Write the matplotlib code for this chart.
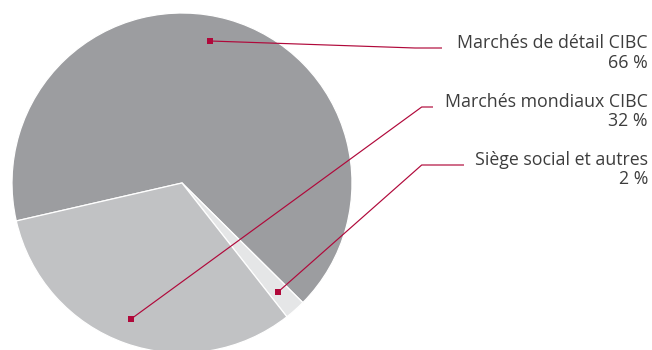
import matplotlib
matplotlib.use("Agg")
import matplotlib.pyplot as plt

# data
segments = ["Marchés de détail CIBC", "Siège social et autres", "Marchés mondiaux CIBC"]
shares = [66, 2, 32]
colors = ["#9c9da0", "#e5e6e7", "#c1c2c4"]

# label order on the right (top to bottom)
label_order = [0, 2, 1]

RED = "#b0083a"
TEXT = "#3d3d3d"

fig = plt.figure(figsize=(6.52, 3.5), dpi=100)
ax = fig.add_axes([0, 0, 1, 1])

# pixel-like coordinates, y up
cx, cy, r = 182, 167, 170
ax.pie(shares, colors=colors, startangle=192.9, counterclock=False,
       center=(cx, cy), radius=r,
       wedgeprops=dict(edgecolor="white", linewidth=0.9))

ax.set_xlim(0, 652)
ax.set_ylim(0, 350)
ax.set_aspect("equal")
ax.axis("off")

# leader lines: marker point, elbow, end
leaders = {
    0: [(210, 309), (415, 302), (442, 302)],
    2: [(131, 31), (421.7, 243), (433, 243)],
    1: [(278, 58), (421.7, 185), (464, 185)],
}
text_base = {0: 302, 2: 243, 1: 185}

for i in label_order:
    pts = leaders[i]
    xs = [p[0] for p in pts]
    ys = [p[1] for p in pts]
    ax.plot(xs, ys, color=RED, lw=0.85, solid_capstyle="butt")
    ax.plot(xs[0], ys[0], marker="s", ms=5, color=RED, mew=0)
    y0 = text_base[i]
    ax.text(648, y0, segments[i], ha="right", va="baseline",
            fontsize=12.8, color=TEXT, family="Open Sans")
    ax.text(648, y0 - 19.5, f"{shares[i]} %", ha="right", va="baseline",
            fontsize=12.8, color=TEXT, family="Open Sans")

fig.savefig("out.png", dpi=100)
